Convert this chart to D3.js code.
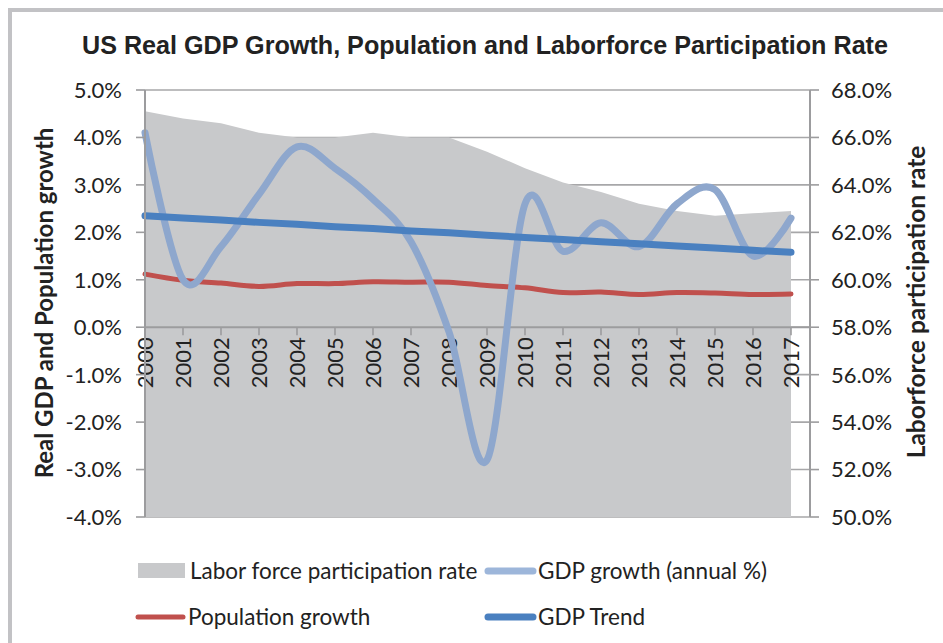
<!DOCTYPE html>
<html>
<head>
<meta charset="utf-8">
<script src="https://cdn.jsdelivr.net/npm/d3@7"></script>
<style>
  body { margin: 0; background: #fff; }
  text { font-family: Lato, "Open Sans", sans-serif; fill: #222; }
</style>
</head>
<body>
<div id="chart"></div>
<script>
// values
var years = ["2000","2001","2002","2003","2004","2005","2006","2007","2008",
             "2009","2010","2011","2012","2013","2014","2015","2016","2017"];
var laborRate = [67.1, 66.8, 66.6, 66.2, 66.0, 66.0, 66.2, 66.0, 66.0,
                 65.4, 64.7, 64.1, 63.7, 63.2, 62.9, 62.7, 62.8, 62.9];
var gdpGrowth = [4.1, 1.0, 1.7, 2.8, 3.8, 3.35, 2.7, 1.8, -0.1,
                 -2.8, 2.6, 1.6, 2.2, 1.7, 2.6, 2.9, 1.5, 2.3];
var popGrowth = [1.12, 0.99, 0.93, 0.86, 0.92, 0.92, 0.96, 0.95, 0.95,
                 0.88, 0.83, 0.73, 0.74, 0.69, 0.73, 0.72, 0.69, 0.70];
var gdpTrend = [2.35, 2.30, 2.26, 2.21, 2.17, 2.12, 2.08, 2.03, 1.99,
                1.94, 1.89, 1.85, 1.80, 1.76, 1.71, 1.67, 1.62, 1.58];
var leftTicks = [5, 4, 3, 2, 1, 0, -1, -2, -3, -4];
var rightTicks = [68, 66, 64, 62, 60, 58, 56, 54, 52, 50];

var width = 943, height = 643;
var plotLeft = 145, plotRight = 810, plotTop = 90, plotBottom = 517;

var pct = function(d) { return d.toFixed(1) + "%"; };

var svg = d3.select("#chart").append("svg")
    .attr("width", width)
    .attr("height", height);

// outer frame
svg.append("path")
    .attr("d", "M10,643 V10 H943")
    .attr("fill", "none")
    .attr("stroke", "#c2c2c5")
    .attr("stroke-width", 4);

svg.append("text")
    .attr("x", 485).attr("y", 54)
    .attr("text-anchor", "middle")
    .style("font-family", "'Liberation Sans Narrow', 'Liberation Sans', sans-serif")
    .style("font-weight", "bold")
    .style("font-size", "25px")
    .attr("textLength", 806)
    .attr("lengthAdjust", "spacingAndGlyphs")
    .text("US Real GDP Growth, Population and Laborforce Participation Rate");

var x = d3.scalePoint().domain(years).range([plotLeft, 791]);
var yL = d3.scaleLinear().domain([-4, 5]).range([plotBottom, plotTop]);
var yR = d3.scaleLinear().domain([50, 68]).range([plotBottom, plotTop]);

// gridlines
svg.append("g").selectAll("line")
    .data(leftTicks)
    .enter()
    .append("line")
    .attr("x1", plotLeft).attr("x2", plotRight)
    .attr("y1", function(d) { return yL(d); })
    .attr("y2", function(d) { return yL(d); })
    .attr("stroke", "#a7a7a9")
    .attr("stroke-width", 1.6);

// labor force area (right axis)
var area = d3.area()
    .x(function(d, i) { return x(years[i]); })
    .y0(plotBottom)
    .y1(function(d) { return yR(d); });

svg.append("path")
    .datum(laborRate)
    .attr("d", area)
    .attr("fill", "#c8c9cb");

// zero line with category ticks
svg.append("line")
    .attr("x1", plotLeft).attr("x2", plotRight)
    .attr("y1", yL(0)).attr("y2", yL(0))
    .attr("stroke", "#9c9c9e")
    .attr("stroke-width", 2);

svg.append("g").selectAll("line")
    .data(years)
    .enter()
    .append("line")
    .attr("x1", function(d) { return x(d); })
    .attr("x2", function(d) { return x(d); })
    .attr("y1", yL(0)).attr("y2", yL(0) + 8)
    .attr("stroke", "#9c9c9e")
    .attr("stroke-width", 1.6);

svg.append("g").selectAll("text")
    .data(years)
    .enter()
    .append("text")
    .attr("transform", function(d) { return "translate(" + x(d) + "," + (yL(0) + 10) + ") rotate(-90)"; })
    .attr("text-anchor", "end")
    .attr("dy", "0.36em")
    .style("font-size", "22px")
    .text(function(d) { return d; });

// series lines
var smooth = d3.line()
    .x(function(d, i) { return x(years[i]); })
    .y(function(d) { return yL(d); })
    .curve(d3.curveCatmullRom.alpha(0));

var straight = d3.line()
    .x(function(d, i) { return x(years[i]); })
    .y(function(d) { return yL(d); });

svg.append("path")
    .datum(popGrowth)
    .attr("d", smooth)
    .attr("fill", "none")
    .attr("stroke", "#c0504d")
    .attr("stroke-width", 5)
    .attr("stroke-linecap", "round");

svg.append("path")
    .datum(gdpGrowth)
    .attr("d", smooth)
    .attr("fill", "none")
    .attr("stroke", "#8ea7cd")
    .attr("stroke-width", 7)
    .attr("stroke-linecap", "round")
    .attr("stroke-linejoin", "round");

svg.append("path")
    .datum(gdpTrend)
    .attr("d", straight)
    .attr("fill", "none")
    .attr("stroke", "#4a80c0")
    .attr("stroke-width", 7)
    .attr("stroke-linecap", "round");

// left axis
var gL = svg.append("g");
gL.append("line")
    .attr("x1", plotLeft).attr("x2", plotLeft)
    .attr("y1", plotTop).attr("y2", plotBottom)
    .attr("stroke", "#9c9c9e").attr("stroke-width", 2);
gL.selectAll("line.tick")
    .data(leftTicks)
    .enter()
    .append("line")
    .attr("class", "tick")
    .attr("x1", plotLeft - 9).attr("x2", plotLeft)
    .attr("y1", function(d) { return yL(d); })
    .attr("y2", function(d) { return yL(d); })
    .attr("stroke", "#9c9c9e").attr("stroke-width", 1.6);
gL.selectAll("text")
    .data(leftTicks)
    .enter()
    .append("text")
    .attr("x", 122)
    .attr("y", function(d) { return yL(d); })
    .attr("dy", "0.36em")
    .attr("text-anchor", "end")
    .style("font-size", "22px")
    .text(pct);

// right axis
var gR = svg.append("g");
gR.append("line")
    .attr("x1", plotRight).attr("x2", plotRight)
    .attr("y1", plotTop).attr("y2", plotBottom)
    .attr("stroke", "#9c9c9e").attr("stroke-width", 2);
gR.selectAll("line.tick")
    .data(rightTicks)
    .enter()
    .append("line")
    .attr("class", "tick")
    .attr("x1", plotRight).attr("x2", plotRight + 9)
    .attr("y1", function(d) { return yR(d); })
    .attr("y2", function(d) { return yR(d); })
    .attr("stroke", "#9c9c9e").attr("stroke-width", 1.6);
gR.selectAll("text")
    .data(rightTicks)
    .enter()
    .append("text")
    .attr("x", 831)
    .attr("y", function(d) { return yR(d); })
    .attr("dy", "0.36em")
    .style("font-size", "22px")
    .text(pct);

// axis titles
svg.append("text")
    .attr("transform", "translate(53,303) rotate(-90)")
    .attr("text-anchor", "middle")
    .style("font-size", "24px")
    .style("font-weight", "bold")
    .text("Real GDP and Population growth");

svg.append("text")
    .attr("transform", "translate(925,302) rotate(-90)")
    .attr("text-anchor", "middle")
    .style("font-size", "24.5px")
    .style("font-weight", "bold")
    .text("Laborforce participation rate");

// legend
var legend = [
    {name: "Labor force participation rate", type: "rect", color: "#c8c9cb", x: 138, y: 571},
    {name: "GDP growth (annual %)", type: "line", color: "#9db6da", x: 486, y: 571},
    {name: "Population growth", type: "line", color: "#c0504d", x: 136, y: 617},
    {name: "GDP Trend", type: "line", color: "#4a80c0", x: 486, y: 617}
];

var lg = svg.append("g").selectAll("g")
    .data(legend)
    .enter()
    .append("g");

lg.filter(function(d) { return d.type === "rect"; })
    .append("rect")
    .attr("x", function(d) { return d.x; })
    .attr("y", function(d) { return d.y - 8; })
    .attr("width", 47).attr("height", 15)
    .attr("fill", function(d) { return d.color; });

lg.filter(function(d) { return d.type === "line"; })
    .append("line")
    .attr("x1", function(d) { return d.x + 2; })
    .attr("x2", function(d) { return d.x + 47; })
    .attr("y1", function(d) { return d.y; })
    .attr("y2", function(d) { return d.y; })
    .attr("stroke", function(d) { return d.color; })
    .attr("stroke-width", function(d) { return d.name === "Population growth" ? 5 : 7; })
    .attr("stroke-linecap", "round");

lg.append("text")
    .attr("x", function(d) { return d.x + 52; })
    .attr("y", function(d) { return d.y; })
    .attr("dy", "0.36em")
    .style("font-size", "22.5px")
    .text(function(d) { return d.name; });
</script>
</body>
</html>
